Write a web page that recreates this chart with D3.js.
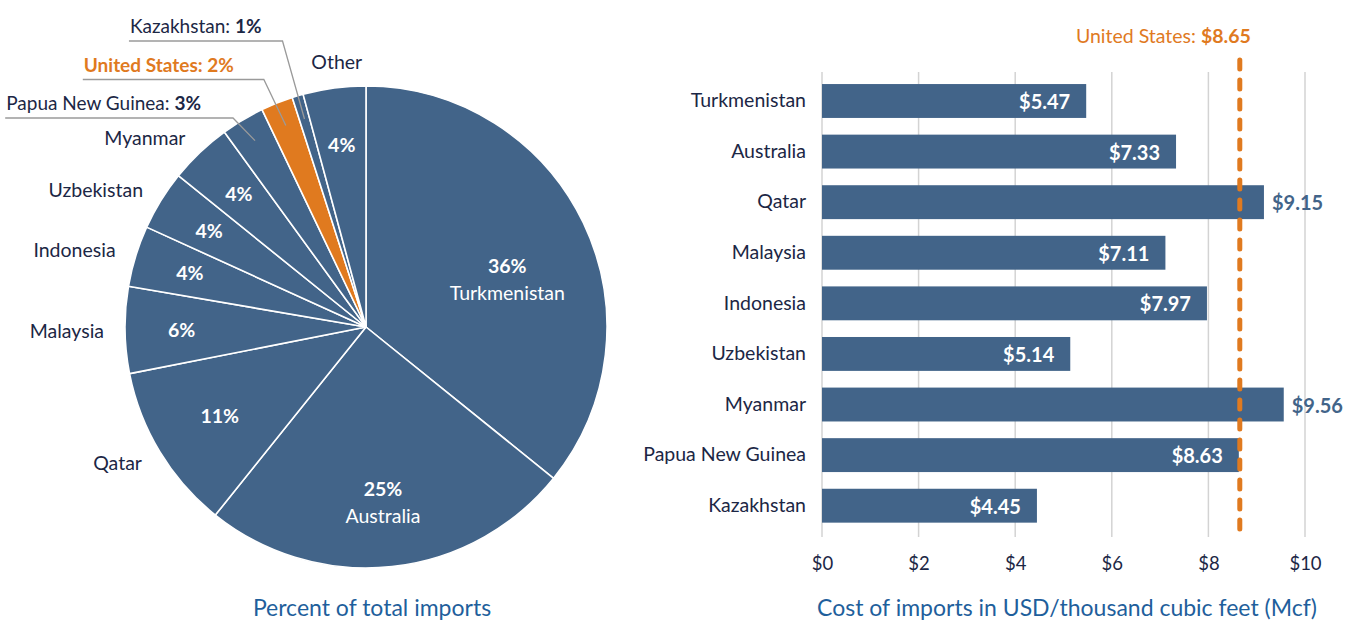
<!DOCTYPE html>
<html><head><meta charset="utf-8">
<script src="https://cdn.jsdelivr.net/npm/d3@7"></script>
<style>
html,body{margin:0;padding:0;background:#fff;}
svg{display:block;font-family:Lato,"Open Sans",sans-serif;}
</style></head>
<body>
<svg id="chart" width="1348" height="621"></svg>
<script>
// ---------- DATA ----------
const pieCategories = ["Turkmenistan","Australia","Qatar","Malaysia","Indonesia","Uzbekistan","Myanmar","Papua New Guinea","United States","Kazakhstan","Other"];
const pieShares = [35.8,24.95,11.15,5.8,4.1,4.0,4.2,2.9,2.15,0.75,4.2];
const pieLabelStyle = ["inside2","inside2","outside","outside","outside","outside","outside","callout","callout","callout","outside"];
const pieTitle = "Percent of total imports";

const barCategories = ["Turkmenistan","Australia","Qatar","Malaysia","Indonesia","Uzbekistan","Myanmar","Papua New Guinea","Kazakhstan"];
const barValues = [5.47,7.33,9.15,7.11,7.97,5.14,9.56,8.63,4.45];
const usCost = 8.65;
const usLabel = "United States: ";
const barTicks = [0,2,4,6,8,10];
const barTitle = "Cost of imports in USD/thousand cubic feet (Mcf)";

// ---------- STYLE ----------
const BLUE = "#426489", ORANGE = "#e07a1f", DARK = "#1c2745", TITLE = "#1f5f9c", GRID = "#d3d3d3";
const FS = 19.5;

const svg = d3.select("#chart");

// ---------- PIE ----------
const cx = 366, cy = 327, R = 241;
const pieData = pieCategories.map((c,i)=>({cat:c, v:pieShares[i], style:pieLabelStyle[i], i}));
const pie = d3.pie().value(d=>d.v).sort(null);
const arcs = pie(pieData);
const arc = d3.arc().innerRadius(0).outerRadius(R);
const g = svg.append("g").attr("transform",`translate(${cx},${cy})`);
g.selectAll("path.slice").data(arcs).enter().append("path")
  .attr("class","slice")
  .attr("d",arc)
  .attr("fill",d=>d.data.cat==="United States"?ORANGE:BLUE)
  .attr("stroke","#fff").attr("stroke-width",1.6).attr("stroke-linejoin","round");

const mid = d=>(d.startAngle+d.endAngle)/2;
const pt = (a,r)=>[Math.sin(a)*r, -Math.cos(a)*r];
const pct = v=>Math.round(v)+"%";

arcs.forEach(d=>{
  const a = mid(d);
  const st = d.data.style;
  if(st==="inside2"){
    const [x,y] = pt(a,R*0.65);
    g.append("text").attr("x",x).attr("y",y+6).attr("text-anchor","middle").attr("dominant-baseline","central")
      .attr("fill","#fff").attr("font-weight","bold").attr("font-size",FS).text(pct(d.data.v));
    g.append("text").attr("x",x).attr("y",y+33).attr("text-anchor","middle").attr("dominant-baseline","central")
      .attr("fill","#fff").attr("font-size",FS).text(d.data.cat);
  } else if(st==="outside"){
    const rIn = d.data.v>=10 ? R*0.71 : R*0.765;
    const [x,y] = pt(a,rIn);
    g.append("text").attr("x",x).attr("y",y).attr("text-anchor","middle").attr("dominant-baseline","central")
      .attr("fill","#fff").attr("font-weight","bold").attr("font-size",FS).text(pct(d.data.v));
    const s = Math.sin(a);
    if(s < -0.3){
      const [ox,oy] = pt(a,R+21);
      g.append("text").attr("x",ox).attr("y",oy).attr("text-anchor","end").attr("dominant-baseline","central")
        .attr("fill",DARK).attr("font-size",FS).text(d.data.cat);
    } else {
      const [ox,oy] = pt(a,R+27);
      g.append("text").attr("x",ox+6).attr("y",oy).attr("text-anchor","middle").attr("dominant-baseline","central")
        .attr("fill",DARK).attr("font-size",FS).text(d.data.cat);
    }
  }
});

// callouts
const calloutGap = [32,30,21];
const callouts = arcs.filter(d=>d.data.style==="callout");
callouts.forEach((d,k)=>{
  const a = mid(d);
  const [sx,sy] = pt(a,R*0.9);
  const ex = sx-22;
  const ey = -R+32-k*38.5;
  const col = d.data.cat==="United States"?ORANGE:DARK;
  const t = g.append("text").attr("x",ex-calloutGap[k]).attr("y",ey-8).attr("text-anchor","end")
    .attr("font-size",19).attr("fill",col);
  t.append("tspan").attr("font-weight",d.data.cat==="United States"?"bold":"normal").text(d.data.cat+": ");
  t.append("tspan").attr("font-weight","bold").text(pct(d.data.v));
  const bb = t.node().getBBox();
  g.insert("polyline","text").attr("points",`${bb.x-1},${ey} ${ex},${ey} ${sx},${sy}`)
    .attr("fill","none").attr("stroke","#9a9a9a").attr("stroke-width",1.3);
});

svg.append("text").attr("x",372).attr("y",616).attr("text-anchor","middle")
  .attr("fill",TITLE).attr("font-size",23).text(pieTitle);

// ---------- BAR ----------
const x = d3.scaleLinear().domain([0,10]).range([822,1305]);
const y = d3.scaleBand().domain(barCategories).range([75.7,531]).paddingInner(0.33).paddingOuter(0.165);
const gridTop = 72, gridBot = 537;

svg.append("g").selectAll("line").data(barTicks).enter().append("line")
  .attr("x1",d=>x(d)).attr("x2",d=>x(d)).attr("y1",gridTop).attr("y2",gridBot)
  .attr("stroke",GRID).attr("stroke-width",1.5);

const xAxis = svg.append("g").attr("transform",`translate(0,${gridBot})`)
  .call(d3.axisBottom(x).tickValues(barTicks).tickSize(0).tickPadding(20).tickFormat(d=>"$"+d));
xAxis.select(".domain").remove();
xAxis.selectAll("text").attr("font-size",18.5).attr("fill",DARK).attr("font-family","Lato");

const yAxis = svg.append("g").attr("transform",`translate(822,0)`)
  .call(d3.axisLeft(y).tickSize(0).tickPadding(16));
yAxis.select(".domain").remove();
yAxis.selectAll("text").attr("font-size",FS).attr("fill",DARK).attr("font-family","Lato");

const barData = barCategories.map((c,i)=>({cat:c,v:barValues[i]}));
svg.append("g").selectAll("rect").data(barData).enter().append("rect")
  .attr("x",x(0)).attr("y",d=>y(d.cat)).attr("width",d=>x(d.v)-x(0)).attr("height",y.bandwidth())
  .attr("fill",BLUE);

svg.append("g").selectAll("text").data(barData).enter().append("text")
  .attr("x",d=>d.v>usCost ? x(d.v)+8 : x(d.v)-16)
  .attr("y",d=>y(d.cat)+y.bandwidth()/2)
  .attr("text-anchor",d=>d.v>usCost?"start":"end")
  .attr("dominant-baseline","central")
  .attr("font-weight","bold").attr("font-size",20)
  .attr("fill",d=>d.v>usCost?BLUE:"#fff")
  .text(d=>"$"+d.v.toFixed(2));

svg.append("line").attr("x1",x(usCost)).attr("x2",x(usCost)).attr("y1",60).attr("y2",536)
  .attr("stroke",ORANGE).attr("stroke-width",5).attr("stroke-dasharray","9 11").attr("stroke-linecap","round");

const ut = svg.append("text").attr("x",x(usCost)+11).attr("y",43).attr("text-anchor","end")
  .attr("fill",ORANGE).attr("font-size",FS);
ut.append("tspan").text(usLabel);
ut.append("tspan").attr("font-weight","bold").text("$"+usCost.toFixed(2));

svg.append("text").attr("x",1067).attr("y",616).attr("text-anchor","middle")
  .attr("fill",TITLE).attr("font-size",23).text(barTitle);
</script>
</body></html>
